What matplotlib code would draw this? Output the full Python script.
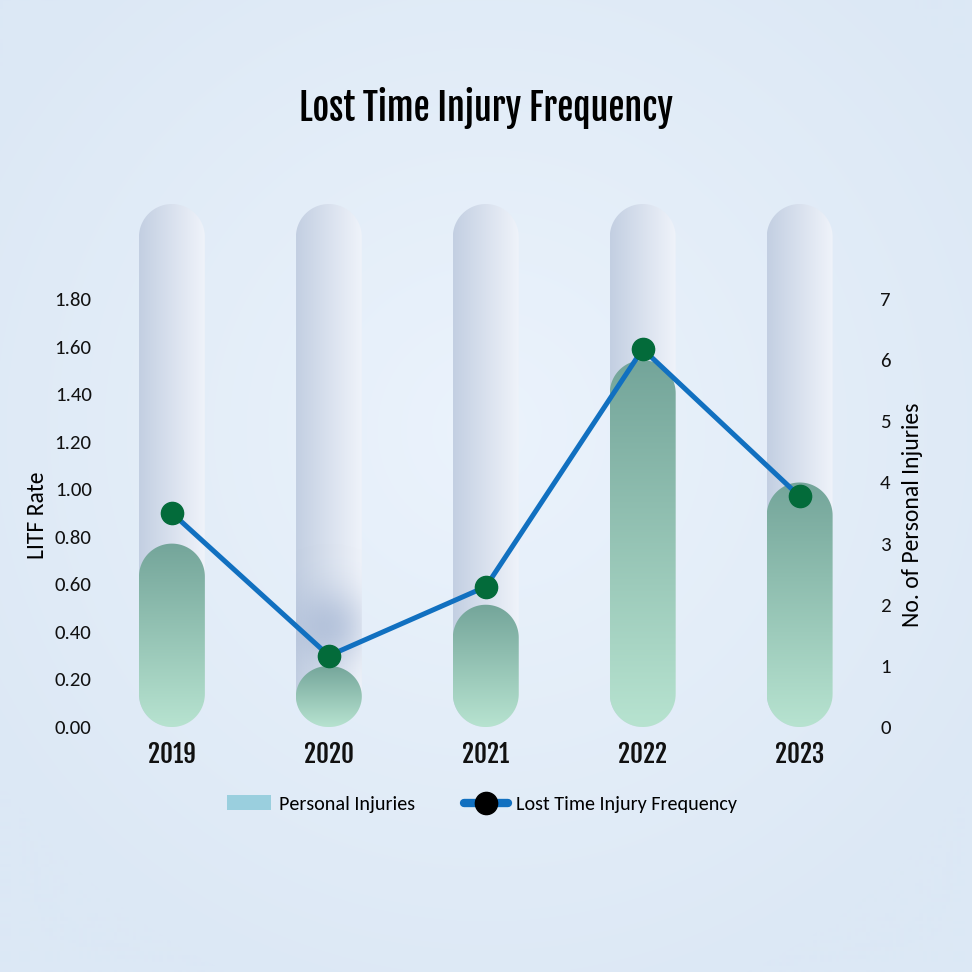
import numpy as np
import matplotlib
matplotlib.use("Agg")
import matplotlib.pyplot as plt
from matplotlib.path import Path
from matplotlib.patches import PathPatch, Patch
from matplotlib.lines import Line2D
from matplotlib.colors import LinearSegmentedColormap, to_rgb

years = ["2019", "2020", "2021", "2022", "2023"]
personal_injuries = [3, 1, 2, 6, 4]
litf_rate = [0.90, 0.30, 0.59, 1.59, 0.97]
litf_ticks = [0.0, 0.2, 0.4, 0.6, 0.8, 1.0, 1.2, 1.4, 1.6, 1.8]
injury_ticks = [0, 1, 2, 3, 4, 5, 6, 7]

LEFT_MAX = 2.2
RIGHT_MAX = LEFT_MAX * 7 / 1.8
BAR_W = 0.42

COND = ["Fjalla One", "Oswald", "Saira ExtraCondensed", "DejaVu Sans"]
BODY = ["Carlito", "Lato", "DejaVu Sans"]

fig = plt.figure(figsize=(9.72, 9.72), dpi=100)

# soft radial background
bg = fig.add_axes([0, 0, 1, 1], zorder=-10)
yy, xx = np.mgrid[0:972, 0:972]
r = np.clip(np.hypot(xx - 486, yy - 430) / 600, 0, 1)
c0 = np.array(to_rgb("#EBF3FC"))
c1 = np.array(to_rgb("#DCE8F5"))
bg.imshow(c0 + (c1 - c0) * r[..., None], extent=[0, 1, 0, 1], aspect="auto")
bg.axis("off")

ax = fig.add_axes([101.3 / 972, 1 - 727 / 972, 769 / 972, 523 / 972])
ax2 = ax.twinx()
ax.set_zorder(ax2.get_zorder() + 1)
ax.patch.set_visible(False)
ax2.patch.set_visible(False)

x = np.arange(len(years))
ax.set_xlim(-0.45, len(years) - 0.55)
ax.set_ylim(0, LEFT_MAX)
ax2.set_ylim(0, RIGHT_MAX)


def pill(axis, xc, top, bottom=0.0):
    p0 = axis.transData.transform((0, 0))
    p1 = axis.transData.transform((1, 1))
    hw = BAR_W / 2
    ry = hw * (p1[0] - p0[0]) / (p1[1] - p0[1])
    ry = min(ry, (top - bottom) / 2)
    t = np.linspace(0, np.pi, 60)
    top_pts = np.column_stack([xc + hw * np.cos(t), top - ry + ry * np.sin(t)])
    bot_pts = np.column_stack([xc - hw * np.cos(t), bottom + ry - ry * np.sin(t)])
    verts = np.vstack([top_pts, bot_pts, top_pts[:1]])
    return PathPatch(Path(verts, closed=True), transform=axis.transData,
                     facecolor="none", edgecolor="none")


grey_cmap = LinearSegmentedColormap.from_list("grey", ["#C3CFE2", "#EFF3FA"])
green_cmap = LinearSegmentedColormap.from_list("green", ["#74A59A", "#B7E3D0"])
hgrad = np.linspace(0, 1, 256).reshape(1, -1)
vgrad = np.linspace(0, 1, 256).reshape(-1, 1)

for xi, val in zip(x, personal_injuries):
    hw = BAR_W / 2
    # full-height background capsule
    clip = pill(ax2, xi, RIGHT_MAX)
    ax2.add_patch(clip)
    im = ax2.imshow(hgrad, cmap=grey_cmap, extent=[xi - hw, xi + hw, 0, RIGHT_MAX],
                    aspect="auto", zorder=1)
    im.set_clip_path(clip)

    # value capsule
    clip = pill(ax2, xi, val)
    ax2.add_patch(clip)
    im = ax2.imshow(vgrad, cmap=green_cmap, extent=[xi - hw, xi + hw, 0, val],
                    aspect="auto", zorder=3)
    im.set_clip_path(clip)

# faint shadow blob on the 2020 capsule
gy, gx = np.mgrid[0:200, 0:60]
gx = (gx - 30) / 60 * BAR_W * 157
gy = (gy - 200 * (1 - 1.67 / RIGHT_MAX)) / 200 * RIGHT_MAX * 61.1
blob = np.zeros((200, 60, 4))
blob[..., :3] = to_rgb("#9FB1D0")
blob[..., 3] = 0.6 * np.exp(-(gx ** 2 + gy ** 2) / (2 * 26 ** 2))
clip = pill(ax2, 1, RIGHT_MAX)
ax2.add_patch(clip)
im = ax2.imshow(blob, extent=[1 - BAR_W / 2, 1 + BAR_W / 2, 0, RIGHT_MAX],
                aspect="auto", zorder=2)
im.set_clip_path(clip)

ax.plot(x, litf_rate, color="#1170C0", lw=3.6, marker="o", ms=16,
        mfc="#036B3A", mec="#036B3A", zorder=5, solid_capstyle="round")

ax.set_xlim(-0.45, len(years) - 0.55)
ax.set_ylim(0, LEFT_MAX)
ax2.set_ylim(0, RIGHT_MAX)

ax.set_yticks(litf_ticks, [f"{v:.2f}" for v in litf_ticks], family=BODY, fontsize=15)
ax2.set_yticks(injury_ticks, [str(v) for v in injury_ticks], family=BODY, fontsize=15)
ax.set_xticks(x, years, family=COND, fontweight="bold", fontsize=18)
ax.tick_params(axis="both", length=0, colors="#111111")
ax.tick_params(axis="y", pad=7)
ax.tick_params(axis="x", pad=10)
ax2.tick_params(axis="y", length=0, pad=7, colors="#111111")
for a in (ax, ax2):
    for s in a.spines.values():
        s.set_visible(False)

ax.set_ylabel("LITF Rate", family=BODY, fontsize=17)
ax.yaxis.set_label_coords((48 - 101.3) / 769, (727 - 515) / 523)
ax2.set_ylabel("No. of Personal Injuries", family=BODY, fontsize=17)
ax2.yaxis.set_label_coords((902 - 101.3) / 769, (727 - 515) / 523)

fig.text(0.5, 1 - 108 / 972, "Lost Time Injury Frequency", ha="center", va="center",
         family=COND, fontweight="bold", fontsize=26, color="#000000")

handles = [
    Patch(facecolor="#9ACFDE", edgecolor="none", label="Personal Injuries"),
    Line2D([0], [0], color="#1170C0", lw=6, marker="o", ms=16, mfc="black",
           mec="black", solid_capstyle="round", label="Lost Time Injury Frequency"),
]
fig.legend(handles=handles, loc="center", bbox_to_anchor=(482 / 972, 1 - 804 / 972),
           ncol=2, frameon=False, prop={"family": BODY, "size": 14.5},
           handlelength=2.2, handletextpad=0.4, columnspacing=2.4)

fig.savefig("out.png", dpi=100)
